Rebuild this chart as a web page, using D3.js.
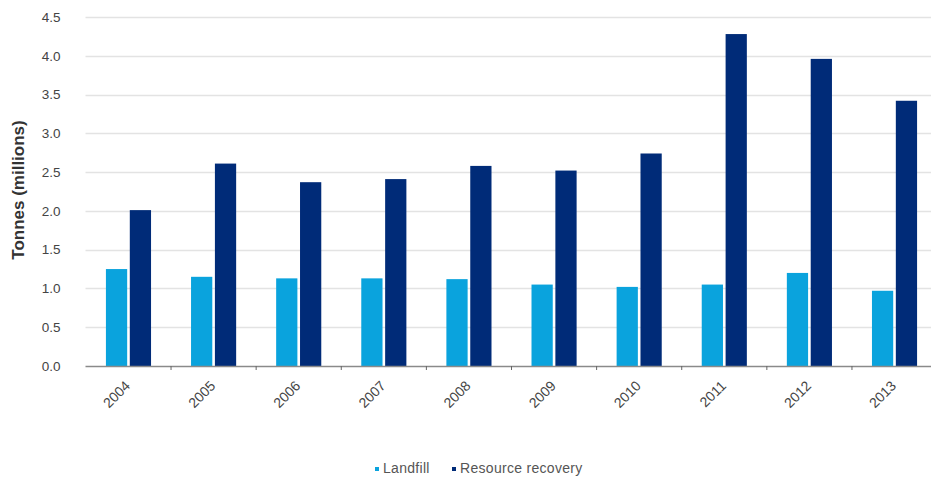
<!DOCTYPE html>
<html>
<head>
<meta charset="utf-8">
<script src="https://cdn.jsdelivr.net/npm/d3@7"></script>
<style>
  html, body { margin: 0; padding: 0; background: #fff; }
  svg { display: block; font-family: Arial, "Liberation Sans", sans-serif; }
</style>
</head>
<body>
<svg id="chart" width="931" height="482"></svg>
<script>
// Waste tonnages by year
const years = ["2004","2005","2006","2007","2008","2009","2010","2011","2012","2013"];
const landfill = [1.25, 1.15, 1.13, 1.13, 1.12, 1.05, 1.02, 1.05, 1.20, 0.97];
const resourceRecovery = [2.01, 2.61, 2.37, 2.41, 2.58, 2.52, 2.74, 4.28, 3.96, 3.42];
const yTicks = [0, 0.5, 1.0, 1.5, 2.0, 2.5, 3.0, 3.5, 4.0, 4.5];
const seriesNames = ["Landfill", "Resource recovery"];
const colors = ["#0aa3dd", "#002b78"];

const svg = d3.select("#chart");
const W = 931;
const plotLeft = 85.5, plotRight = 937.5, plotTop = 17, plotBottom = 366;

const x = d3.scaleBand().domain(years).range([plotLeft, plotRight]).paddingInner(0.47).paddingOuter(0.24);
const xSub = d3.scaleBand().domain([0, 1]).range([0, x.bandwidth()]).paddingInner(0.11);
const y = d3.scaleLinear().domain([0, 4.5]).range([plotBottom, plotTop]);

// gridlines
svg.append("g").selectAll("line").data(yTicks.filter(d => d > 0)).join("line")
  .attr("x1", plotLeft).attr("x2", W)
  .attr("y1", d => Math.round(y(d)) + 0.5).attr("y2", d => Math.round(y(d)) + 0.5)
  .attr("stroke", "#e3e3e3").attr("stroke-width", 1.5);

// y axis labels
const yAxis = d3.axisLeft(y).tickValues(yTicks).tickFormat(d3.format(".1f")).tickSize(0).tickPadding(25);
const gy = svg.append("g").attr("transform", `translate(${plotLeft},0)`).call(yAxis);
gy.select(".domain").remove();
gy.selectAll("text").attr("font-size", 13.5).attr("fill", "#444");

// bars
const groups = svg.append("g").selectAll("g").data(years).join("g")
  .attr("transform", d => `translate(${x(d)},0)`);
groups.selectAll("rect")
  .data((d, i) => [landfill[i], resourceRecovery[i]].map((v, s) => ({ v, s })))
  .join("rect")
  .attr("x", d => xSub(d.s))
  .attr("width", xSub.bandwidth())
  .attr("y", d => y(d.v))
  .attr("height", d => y(0) - y(d.v))
  .attr("fill", d => colors[d.s]);

// x axis
const step = x.step();
const gx = svg.append("g").attr("transform", `translate(0,${plotBottom})`);
gx.append("line").attr("x1", plotLeft).attr("x2", W).attr("y1", 0.5).attr("y2", 0.5)
  .attr("stroke", "#8a8a8a").attr("stroke-width", 1.5);
gx.selectAll(".tick").data(years.slice(1)).join("line")
  .attr("class", "tick")
  .attr("x1", d => x(d) - (step - x.bandwidth()) / 2).attr("x2", d => x(d) - (step - x.bandwidth()) / 2)
  .attr("y1", 0).attr("y2", 4).attr("stroke", "#666");
gx.selectAll("text.year").data(years).join("text")
  .attr("class", "year")
  .attr("transform", d => `translate(${x(d) + x.bandwidth() / 2},${18}) rotate(-45)`)
  .attr("text-anchor", "end")
  .attr("dominant-baseline", "middle")
  .attr("font-size", 14)
  .attr("fill", "#444")
  .text(d => d);

// y axis title
svg.append("text")
  .attr("transform", `translate(20,190) rotate(-90)`)
  .attr("text-anchor", "middle")
  .attr("dominant-baseline", "middle")
  .attr("font-size", 17).attr("font-weight", "bold").attr("fill", "#333")
  .text("Tonnes (millions)");

// legend
const legend = svg.append("g").attr("transform", "translate(375,469)");
const legendX = [0, 77];
seriesNames.forEach((name, i) => {
  const g = legend.append("g").attr("transform", `translate(${legendX[i]},0)`);
  g.append("rect").attr("x", 0).attr("y", -2).attr("width", 4).attr("height", 4).attr("fill", colors[i]);
  g.append("text").attr("x", 8).attr("y", 0).attr("dominant-baseline", "middle")
    .attr("font-size", 14).attr("letter-spacing", 0.3).attr("fill", "#555").text(name);
});
</script>
</body>
</html>
